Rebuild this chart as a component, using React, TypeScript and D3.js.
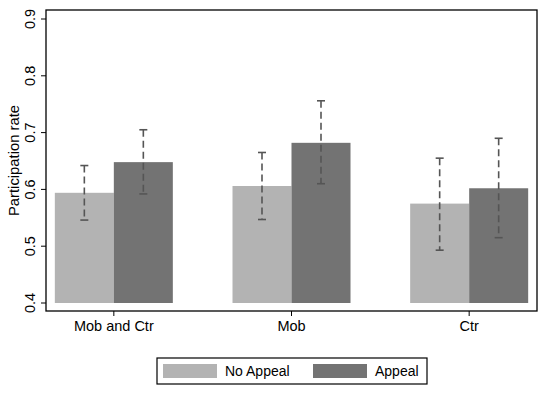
import React, { useEffect, useRef } from 'react';
import * as d3 from 'd3';

const groups = ['Mob and Ctr', 'Mob', 'Ctr'];
const series = ['No Appeal', 'Appeal'];
const colors = ['#b3b3b3', '#737373'];
// mean rate per group, one array per series
const noAppeal = [0.594, 0.606, 0.575];
const appeal = [0.648, 0.682, 0.602];
const noAppealLo = [0.546, 0.547, 0.493];
const noAppealHi = [0.642, 0.665, 0.655];
const appealLo = [0.592, 0.610, 0.515];
const appealHi = [0.705, 0.756, 0.690];
const yTicks = [0.4, 0.5, 0.6, 0.7, 0.8, 0.9];

const App = () => {
  const svgRef = useRef<SVGSVGElement>(null);

  useEffect(() => {
    const svg = d3.select(svgRef.current);
    svg.selectAll('*').remove();

    const left = 46, right = 537, top = 10, bottom = 311;
    const font = 'Arial, "Liberation Sans", sans-serif';

    const y = d3.scaleLinear().domain([0.4, 0.9]).range([303, 19]);
    const x = d3.scaleBand().domain(groups).range([25, 558]).paddingInner(0).paddingOuter(0);
    const bw = 59;

    const vals = [noAppeal, appeal];
    const los = [noAppealLo, appealLo];
    const his = [noAppealHi, appealHi];

    svg.append('rect').attr('width', 550).attr('height', 395).attr('fill', 'white');

    // bars
    vals.forEach((v, s) => {
      svg.selectAll(null)
        .data(groups)
        .enter()
        .append('rect')
        .attr('x', (d) => x(d)! + x.bandwidth() / 2 + (s - 1) * bw)
        .attr('y', (d, i) => y(v[i]))
        .attr('width', bw)
        .attr('height', (d, i) => y(0.4) - y(v[i]))
        .attr('fill', colors[s]);
    });

    // error bars
    vals.forEach((v, s) => {
      groups.forEach((g, i) => {
        const cx = x(g)! + x.bandwidth() / 2 + (s - 0.5) * bw;
        const gE = svg.append('g').attr('stroke', '#555').attr('stroke-width', 1.6);
        gE.append('line')
          .attr('x1', cx).attr('x2', cx)
          .attr('y1', y(his[s][i])).attr('y2', y(los[s][i]))
          .attr('stroke-dasharray', '7,4');
        [his[s][i], los[s][i]].forEach((e) => {
          gE.append('line')
            .attr('x1', cx - 4).attr('x2', cx + 4)
            .attr('y1', y(e)).attr('y2', y(e));
        });
      });
    });

    // frame
    svg.append('rect')
      .attr('x', left).attr('y', top)
      .attr('width', right - left).attr('height', bottom - top)
      .attr('fill', 'none').attr('stroke', 'black').attr('stroke-width', 1.3);

    // y axis
    yTicks.forEach((t) => {
      svg.append('line')
        .attr('x1', left - 5).attr('x2', left)
        .attr('y1', y(t)).attr('y2', y(t))
        .attr('stroke', 'black');
      svg.append('text')
        .attr('transform', `translate(35,${y(t)}) rotate(-90)`)
        .attr('text-anchor', 'middle')
        .attr('font-family', font)
        .attr('font-size', 14.5)
        .text(t.toFixed(1));
    });
    svg.append('text')
      .attr('transform', `translate(19,${(top + bottom) / 2}) rotate(-90)`)
      .attr('text-anchor', 'middle')
      .attr('font-family', font)
      .attr('font-size', 14.8)
      .text('Participation rate');

    // x axis
    groups.forEach((g) => {
      const cx = x(g)! + x.bandwidth() / 2;
      svg.append('line')
        .attr('x1', cx).attr('x2', cx)
        .attr('y1', bottom).attr('y2', bottom + 5)
        .attr('stroke', 'black');
      svg.append('text')
        .attr('x', cx).attr('y', bottom + 20)
        .attr('text-anchor', 'middle')
        .attr('font-family', font)
        .attr('font-size', 14.5)
        .text(g);
    });

    // legend
    svg.append('rect')
      .attr('x', 157).attr('y', 358).attr('width', 270).attr('height', 26)
      .attr('fill', 'white').attr('stroke', 'black').attr('stroke-width', 1.2);
    const legX = [163, 313];
    series.forEach((s, i) => {
      svg.append('rect')
        .attr('x', legX[i]).attr('y', 364).attr('width', 54).attr('height', 14)
        .attr('fill', colors[i]);
      svg.append('text')
        .attr('x', legX[i] + 62).attr('y', 376)
        .attr('font-family', font)
        .attr('font-size', 14)
        .text(s);
    });
  }, []);

  return <svg ref={svgRef} width={550} height={395} style={{ position: 'absolute', left: 0, top: 0 }}></svg>;
};

export default App;
